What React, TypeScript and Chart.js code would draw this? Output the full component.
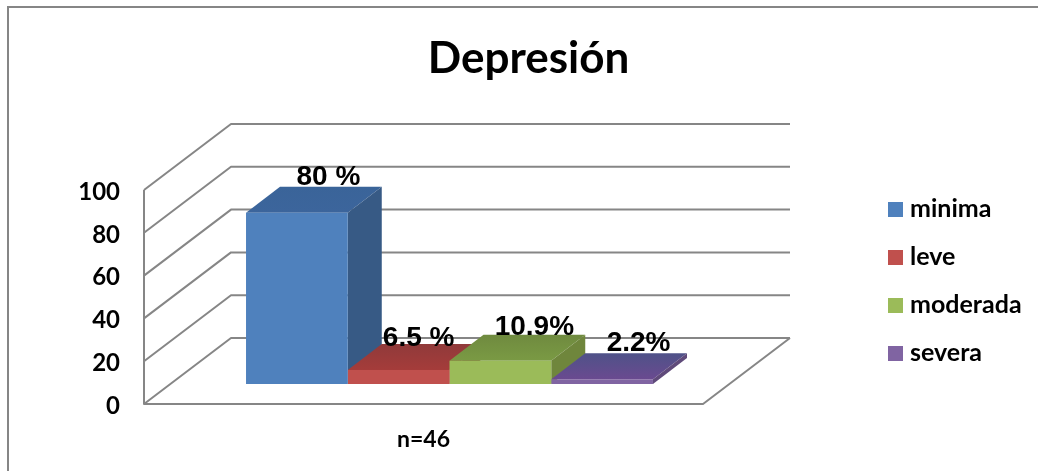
import React, { useEffect, useRef } from "react";
import { Chart, registerables } from "chart.js";

Chart.register(...registerables);

const categories = ["n=46"];
const seriesNames = ["minima", "leve", "moderada", "severa"];
const minima = [80];
const leve = [6.5];
const moderada = [10.9];
const severa = [2.2];
const valueLabels = ["80 %", "6.5 %", "10.9%", "2.2%"];
const yTicks = [0, 20, 40, 60, 80, 100];

const frontColors = ["#4f81bd", "#c0504d", "#9bbb59", "#8064a2"];
const topFrontColors = ["#3c659c", "#a53c3a", "#7a9a44", "#6a4a90"];
const topBackColors = ["#3a6499", "#903a3a", "#6f8a3f", "#4f5288"];
const sideColors = ["#375a85", "#8c3634", "#6f863c", "#5f4a7a"];

const FONT_SANS = "Lato, 'Open Sans', sans-serif";
const FONT_LABEL = "'Liberation Sans', Arial, sans-serif";
const GRID = "#868686";

// Oblique projection of the plot box: wall depth, bar inset and bar depth.
const WALL = { dx: 87, dy: -66 };
const INSET = { dx: 26, dy: -20 };
const DEPTH = { dx: 34, dy: -26 };
const LABEL_NUDGE = [
  { x: 31.5, y: -28 },
  { x: 20, y: -24 },
  { x: 34, y: -26 },
  { x: 36.5, y: -28 },
];

const poly = (ctx: CanvasRenderingContext2D, pts: number[][], fill: any) => {
  ctx.beginPath();
  pts.forEach(([x, y], i) => (i ? ctx.lineTo(x, y) : ctx.moveTo(x, y)));
  ctx.closePath();
  ctx.fillStyle = fill;
  ctx.fill();
};

// Legend swatch as a small canvas, so its size is independent of the text gap.
const swatch = (color: string) => {
  const c = document.createElement("canvas");
  c.width = 15;
  c.height = 15;
  const g = c.getContext("2d")!;
  g.fillStyle = color;
  g.fillRect(0, 0, 15, 15);
  return c;
};

const box3d = {
  id: "box3d",
  afterLayout(chart: any) {
    // Legend sits in its own column beside the plot, title centred over the frame.
    const legend = chart.legend;
    legend.update(190, 320, { top: 0, left: 0, right: 0, bottom: 0 });
    const pad = legend.options.labels.padding;
    legend.left = 893.5 - pad;
    legend.right = legend.left + legend.width;
    legend.top = 196.5 - pad;
    legend.bottom = legend.top + legend.height;
    const title = chart.titleBlock;
    title.left += 177;
    title.right += 177;
  },
  beforeDraw(chart: any) {
    const { ctx, width, height } = chart;
    ctx.save();
    ctx.fillStyle = "#ffffff";
    ctx.fillRect(0, 0, width, height);
    ctx.strokeStyle = GRID;
    ctx.lineWidth = 2;
    ctx.beginPath();
    ctx.moveTo(8, height);
    ctx.lineTo(8, 7);
    ctx.lineTo(width, 7);
    ctx.stroke();
    ctx.restore();
  },
  beforeDatasetsDraw(chart: any) {
    const { ctx, chartArea, scales } = chart;
    const { left, right, bottom, top } = chartArea;
    ctx.save();
    ctx.strokeStyle = GRID;
    ctx.lineWidth = 2;
    ctx.lineJoin = "round";
    yTicks.forEach((t) => {
      const y = scales.y.getPixelForValue(t);
      ctx.beginPath();
      ctx.moveTo(left, y);
      ctx.lineTo(left + WALL.dx, y + WALL.dy);
      ctx.lineTo(right + WALL.dx, y + WALL.dy);
      ctx.stroke();
    });
    ctx.beginPath();
    ctx.moveTo(left, top);
    ctx.lineTo(left, bottom);
    ctx.lineTo(right, bottom);
    ctx.lineTo(right + WALL.dx, bottom + WALL.dy);
    ctx.stroke();

    // Top and side faces go first, left to right, so each bar hides the one behind it.
    chart.data.datasets.forEach((_: any, i: number) => {
      const bar = chart.getDatasetMeta(i).data[0];
      const x0 = bar.x - bar.width / 2 + INSET.dx;
      const x1 = bar.x + bar.width / 2 + INSET.dx;
      const yt = bar.y + INSET.dy;
      const yb = bar.base + INSET.dy;
      const shade = ctx.createLinearGradient(0, yt, 0, yt + DEPTH.dy);
      shade.addColorStop(0, topFrontColors[i]);
      shade.addColorStop(1, topBackColors[i]);
      poly(ctx, [[x0, yt], [x1, yt], [x1 + DEPTH.dx, yt + DEPTH.dy], [x0 + DEPTH.dx, yt + DEPTH.dy]], shade);
      poly(ctx, [[x1, yt], [x1 + DEPTH.dx, yt + DEPTH.dy], [x1 + DEPTH.dx, yb + DEPTH.dy], [x1, yb]], sideColors[i]);
    });
    ctx.restore();

    // Front faces are the library's own bars, pushed back onto the floor.
    ctx.save();
    ctx.translate(INSET.dx, INSET.dy);
  },
  afterDatasetsDraw(chart: any) {
    const { ctx } = chart;
    ctx.restore();
    ctx.save();
    ctx.font = `bold 28px ${FONT_LABEL}`;
    ctx.fillStyle = "#000000";
    ctx.textAlign = "center";
    ctx.textBaseline = "alphabetic";
    valueLabels.forEach((text, i) => {
      const bar = chart.getDatasetMeta(i).data[0];
      ctx.fillText(text, bar.x + INSET.dx + LABEL_NUDGE[i].x, bar.y + INSET.dy + LABEL_NUDGE[i].y);
    });
    ctx.restore();
  },
};

export default function App() {
  const ref = useRef<HTMLCanvasElement>(null);
  useEffect(() => {
    const series = [minima, leve, moderada, severa];
    const chart = new Chart(ref.current!, {
      type: "bar",
      data: {
        labels: categories,
        datasets: series.map((data, i) => ({
          label: seriesNames[i],
          data,
          backgroundColor: frontColors[i],
          borderWidth: 0,
          categoryPercentage: 0.728,
          barPercentage: 1,
        })),
      },
      options: {
        responsive: false,
        animation: false,
        layout: { padding: { top: 0, left: 0, right: 335, bottom: 0 } },
        scales: {
          x: {
            afterFit: (s: any) => { s.height = 67; },
            grid: { display: false, drawTicks: false },
            border: { display: false },
            ticks: {
              padding: 22,
              color: "#000000",
              font: { family: FONT_SANS, weight: "bold", size: 23 },
            },
          },
          y: {
            min: 0,
            max: 100,
            afterFit: (s: any) => { s.width = 144; },
            afterBuildTicks: (s: any) => { s.ticks = yTicks.map((value) => ({ value })); },
            grid: { display: false, drawTicks: false },
            border: { display: false },
            ticks: {
              padding: 24,
              labelOffset: 2,
              color: "#000000",
              font: { family: FONT_SANS, weight: "bold", size: 24 },
            },
          },
        },
        plugins: {
          tooltip: { enabled: false },
          title: {
            display: true,
            text: "Depresión",
            color: "#000000",
            font: { family: FONT_SANS, weight: "bold", size: 44 },
            padding: { top: 32, bottom: 105.2 },
          },
          legend: {
            position: "chartArea",
            align: "start",
            labels: {
              usePointStyle: true,
              pointStyleWidth: 4,
              padding: 23,
              color: "#000000",
              font: { family: FONT_SANS, weight: "bold", size: 25 },
              generateLabels: (c: any) =>
                Chart.defaults.plugins.legend.labels.generateLabels(c).map((item: any, i: number) => ({
                  ...item,
                  pointStyle: swatch(frontColors[i]),
                })),
            },
          },
        },
      },
      plugins: [box3d],
    } as any);
    return () => chart.destroy();
  }, []);
  return (
    <div style={{ position: "fixed", left: 0, top: 0, width: 1038, height: 471, background: "#fff" }}>
      <canvas ref={ref} width={1038} height={471} style={{ display: "block", width: 1038, height: 471 }} />
    </div>
  );
}
